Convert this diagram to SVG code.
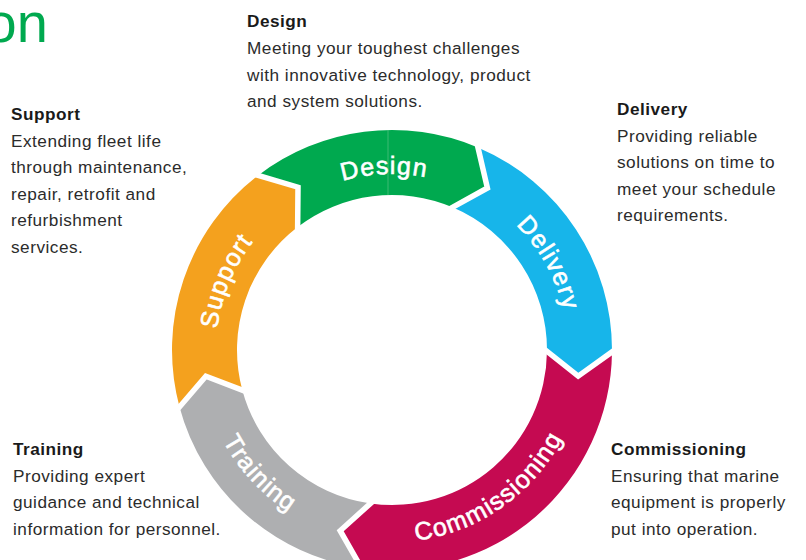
<svg xmlns="http://www.w3.org/2000/svg" width="806" height="560" viewBox="0 0 806 560">
<style>
.h{font-family:"Liberation Sans",Arial,sans-serif;font-size:17.2px;font-weight:bold;fill:#1a1a1a;letter-spacing:0.5px}
.b{font-family:"Liberation Sans",Arial,sans-serif;font-size:17.2px;fill:#2b2b2b;letter-spacing:0.5px}
.rl{font-family:"Liberation Sans",Arial,sans-serif;font-size:25px;fill:#fff;stroke:#fff;stroke-width:0.6px;letter-spacing:1.2px}
.sep{fill:none;stroke:#fff;stroke-width:5.5;stroke-linejoin:miter;stroke-linecap:square}
</style>
<defs>
<path id="pDesign" d="M217.51,327.03 A176,176 0 0 1 563.83,311.91"/>
<path id="pDelivery" d="M334.70,183.59 A176,176 0 0 1 502.76,486.78"/>
<path id="pSupport" d="M297.44,498.44 A176,176 0 0 1 430.09,178.17"/>
<path id="pTraining" d="M238.66,234.45 A192,192 0 0 0 496.57,511.02"/>
<path id="pComm" d="M256.24,485.76 A192,192 0 0 0 566.01,268.86"/>
</defs>
<rect width="806" height="560" fill="#fff"/>
<text x="-14.5" y="42" font-family="Liberation Sans, Arial, sans-serif" font-size="56" fill="#00a94f">on</text>

<g id="seg-design">
<path d="M258.07,175.46 A220,220 0 0 1 477.96,147.49 L487.42,188.01 L452.56,207.32 A155,155 0 0 0 297.64,227.03 L298,187.19 Z" fill="#00a94f"/>
<line x1="388" y1="130" x2="388" y2="195" stroke="#4cbf7e" stroke-width="0.8"/>
<text class="rl"><textPath href="#pDesign" startOffset="50%" text-anchor="middle">Design</textPath></text>
</g>
<g id="seg-delivery">
<path d="M477.96,147.49 A220,220 0 0 1 611.99,351.92 L578.17,376.16 L546.99,351.35 A155,155 0 0 0 452.56,207.32 L487.42,188.01 Z" fill="#17b5ea"/>
<text class="rl"><textPath href="#pDelivery" startOffset="50%" text-anchor="middle">Delivery</textPath></text>
</g>
<g id="seg-commissioning">
<path d="M611.99,351.92 A220,220 0 0 1 361.38,567.86 L340.18,530.72 L370.43,503.49 A155,155 0 0 0 546.99,351.35 L578.17,376.16 Z" fill="#c50a51"/>
<text class="rl"><textPath href="#pComm" startOffset="50%" text-anchor="middle">Commissioning</textPath></text>
</g>
<g id="seg-training">
<path d="M361.38,567.86 A220,220 0 0 1 179.50,406.94 L205.83,376.16 L242.28,390.12 A155,155 0 0 0 370.43,503.49 L340.18,530.72 Z" fill="#aeafb1"/>
<text class="rl"><textPath href="#pTraining" startOffset="50%" text-anchor="middle">Training</textPath></text>
</g>
<g id="seg-support">
<path d="M179.50,406.94 A220,220 0 0 1 258.07,175.46 L298,187.19 L297.64,227.03 A155,155 0 0 0 242.28,390.12 L205.83,376.16 Z" fill="#f4a11e"/>
<text class="rl"><textPath href="#pSupport" startOffset="50%" text-anchor="middle">Support</textPath></text>
</g>

<g id="connectors">
<polyline class="sep" points="258.07,175.46 298,187.19 297.64,227.03"/>
<polyline class="sep" points="477.96,147.49 487.42,188.01 452.56,207.32"/>
<polyline class="sep" points="611.99,351.92 578.17,376.16 546.99,351.35"/>
<polyline class="sep" points="361.38,567.86 340.18,530.72 370.43,503.49"/>
<polyline class="sep" points="179.50,406.94 205.83,376.16 242.28,390.12"/>
</g>

<g id="desc-design">
<text class="h" x="247" y="27">Design</text>
<text class="b" x="247" y="54">Meeting your toughest challenges</text>
<text class="b" x="247" y="80.5">with innovative technology, product</text>
<text class="b" x="247" y="107">and system solutions.</text>
</g>
<g id="desc-support">
<text class="h" x="11" y="120">Support</text>
<text class="b" x="11" y="146.5">Extending fleet life</text>
<text class="b" x="11" y="173">through maintenance,</text>
<text class="b" x="11" y="199.5">repair, retrofit and</text>
<text class="b" x="11" y="226">refurbishment</text>
<text class="b" x="11" y="252.5">services.</text>
</g>
<g id="desc-delivery">
<text class="h" x="617" y="115">Delivery</text>
<text class="b" x="617" y="141.5">Providing reliable</text>
<text class="b" x="617" y="168">solutions on time to</text>
<text class="b" x="617" y="194.5">meet your schedule</text>
<text class="b" x="617" y="221">requirements.</text>
</g>
<g id="desc-training">
<text class="h" x="13" y="455">Training</text>
<text class="b" x="13" y="481.5">Providing expert</text>
<text class="b" x="13" y="508">guidance and technical</text>
<text class="b" x="13" y="534.5">information for personnel.</text>
</g>
<g id="desc-commissioning">
<text class="h" x="611" y="455">Commissioning</text>
<text class="b" x="611" y="481.5">Ensuring that marine</text>
<text class="b" x="611" y="508">equipment is properly</text>
<text class="b" x="611" y="534.5">put into operation.</text>
</g>
</svg>
